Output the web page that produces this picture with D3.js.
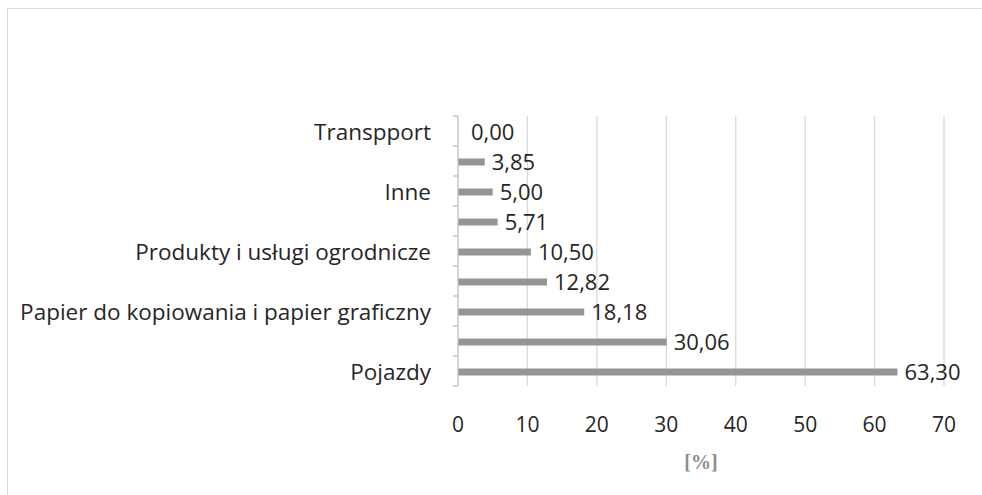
<!DOCTYPE html>
<html>
<head>
<meta charset="utf-8">
<script src="https://cdn.jsdelivr.net/npm/d3@7"></script>
<style>
  body { margin: 0; background: #fff; }
</style>
</head>
<body>
<div id="chart"></div>
<script>
// categories from top to bottom (empty strings are unlabeled rows)
var categories = ["Transpport", "", "Inne", "", "Produkty i usługi ogrodnicze", "", "Papier do kopiowania i papier graficzny", "", "Pojazdy"];
var values = [0.00, 3.85, 5.00, 5.71, 10.50, 12.82, 18.18, 30.06, 63.30];
var xTicks = [0, 10, 20, 30, 40, 50, 60, 70];
var axisTitle = "[%]";

var width = 982, height = 495;
var plot = { left: 458, right: 944, top: 116, bottom: 386 };
var font = "'Open Sans', sans-serif";

var svg = d3.select("#chart").append("svg")
    .attr("width", width)
    .attr("height", height);

// chart frame
svg.append("rect")
    .attr("x", 7.5).attr("y", 8.5)
    .attr("width", width + 10).attr("height", height + 10)
    .attr("fill", "none")
    .attr("stroke", "#d9d9d9");

var x = d3.scaleLinear().domain([0, 70]).range([plot.left, plot.right]);
var y = d3.scaleBand().domain(d3.range(categories.length)).range([plot.top, plot.bottom]).padding(0);
var mid = i => y(i) + y.bandwidth() / 2;

// gridlines
svg.append("g").selectAll("line")
    .data(xTicks.filter(d => d > 0))
    .enter().append("line")
    .attr("x1", d => x(d)).attr("x2", d => x(d))
    .attr("y1", plot.top).attr("y2", plot.bottom)
    .attr("stroke", "#d9d9d9").attr("stroke-width", 1.3);

// bars
var barH = 7;
svg.append("g").selectAll("rect")
    .data(values)
    .enter().append("rect")
    .attr("x", x(0))
    .attr("y", (d, i) => mid(i) - barH / 2 + 1)
    .attr("width", d => x(d) - x(0))
    .attr("height", barH)
    .attr("fill", "#939598");

// value labels
svg.append("g").selectAll("text")
    .data(values)
    .enter().append("text")
    .attr("x", d => x(d) + (d === 0 ? 13 : 7))
    .attr("y", (d, i) => mid(i) + 9)
    .style("font-family", font)
    .style("font-size", "22px")
    .attr("fill", "#262626")
    .text(d => d3.format(".2f")(d).replace(".", ","));

// category axis
var yAxis = svg.append("g").attr("transform", "translate(" + plot.left + ",0)");
yAxis.append("line")
    .attr("x1", 0).attr("x2", 0)
    .attr("y1", plot.top).attr("y2", plot.bottom)
    .attr("stroke", "#bfbfbf").attr("stroke-width", 1.3);
yAxis.selectAll("line.tick")
    .data(d3.range(categories.length + 1))
    .enter().append("line")
    .attr("class", "tick")
    .attr("x1", -5).attr("x2", 0)
    .attr("y1", i => plot.top + i * y.bandwidth())
    .attr("y2", i => plot.top + i * y.bandwidth())
    .attr("stroke", "#bfbfbf").attr("stroke-width", 1.3);

svg.append("g").selectAll("text")
    .data(categories)
    .enter().append("text")
    .attr("x", 431)
    .attr("y", (d, i) => mid(i) + 9)
    .attr("text-anchor", "end")
    .style("font-family", font)
    .style("font-size", "22.5px")
    .attr("fill", "#262626")
    .text(d => d);

// x tick labels
svg.append("g").selectAll("text")
    .data(xTicks)
    .enter().append("text")
    .attr("x", d => x(d))
    .attr("y", 432)
    .attr("text-anchor", "middle")
    .style("font-family", font)
    .style("font-size", "21px")
    .attr("fill", "#262626")
    .text(d => d);

// axis title
svg.append("text")
    .attr("x", 701)
    .attr("y", 469)
    .attr("text-anchor", "middle")
    .style("font-family", "'Liberation Serif', serif")
    .style("font-weight", "bold")
    .style("font-size", "20px")
    .attr("fill", "#8c8c8c")
    .text(axisTitle);
</script>
</body>
</html>
